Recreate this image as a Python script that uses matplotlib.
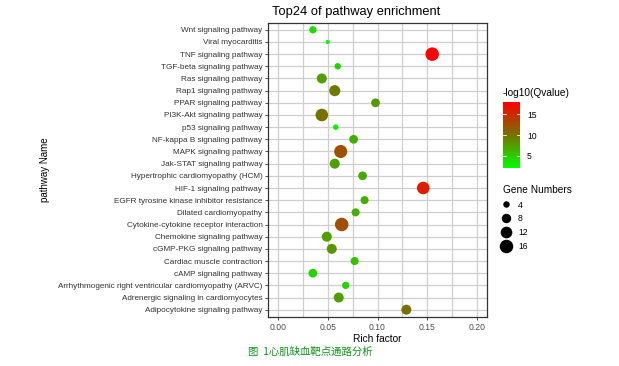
import matplotlib
matplotlib.use('Agg')
import matplotlib.pyplot as plt
from matplotlib.colors import LinearSegmentedColormap, Normalize
from matplotlib.lines import Line2D

plt.rcParams['font.family'] = ['Liberation Sans', 'DejaVu Sans']

# top to bottom as in the chart
pathways = [
    'Wnt signaling pathway',
    'Viral myocarditis',
    'TNF signaling pathway',
    'TGF-beta signaling pathway',
    'Ras signaling pathway',
    'Rap1 signaling pathway',
    'PPAR signaling pathway',
    'PI3K-Akt signaling pathway',
    'p53 signaling pathway',
    'NF-kappa B signaling pathway',
    'MAPK signaling pathway',
    'Jak-STAT signaling pathway',
    'Hypertrophic cardiomyopathy (HCM)',
    'HIF-1 signaling pathway',
    'EGFR tyrosine kinase inhibitor resistance',
    'Dilated cardiomyopathy',
    'Cytokine-cytokine receptor interaction',
    'Chemokine signaling pathway',
    'cGMP-PKG signaling pathway',
    'Cardiac muscle contraction',
    'cAMP signaling pathway',
    'Arrhythmogenic right ventricular cardiomyopathy (ARVC)',
    'Adrenergic signaling in cardiomyocytes',
    'Adipocytokine signaling pathway',
]
rich_factor = [0.035, 0.050, 0.155, 0.060, 0.044, 0.057, 0.098, 0.044,
               0.058, 0.076, 0.063, 0.057, 0.085, 0.146, 0.087, 0.078,
               0.064, 0.049, 0.054, 0.077, 0.035, 0.068, 0.061, 0.129]
gene_numbers = [5, 2, 16, 4, 9, 11, 7, 14, 3, 7, 15, 9, 7, 14, 6, 6,
                16, 9, 9, 6, 7, 5, 9, 9]
neg_log_q = [4.0, 2.2, 18.0, 4.5, 7.6, 9.5, 7.8, 10.0, 2.8, 6.8, 12.3, 7.5,
             6.8, 16.0, 6.5, 6.5, 12.5, 7.5, 8.0, 5.5, 4.5, 4.5, 7.5, 10.0]
size_legend = [4, 8, 12, 16]
x_ticks = [0.00, 0.05, 0.10, 0.15, 0.20]
cbar_ticks = [5, 10, 15]


def marker_area(n):
    d_px = (11.7 * n - 5) ** 0.5
    return (d_px * 0.72) ** 2


cmap = LinearSegmentedColormap.from_list(
    'gr', [(0.0, '#00FF00'), (0.5, '#767200'), (1.0, '#FF0000')])
norm = Normalize(vmin=2.0, vmax=18.0)

fig = plt.figure(figsize=(6.19, 3.66), dpi=100)
ax = fig.add_axes([268 / 619, 1 - 317 / 366, 219 / 619, 294.5 / 366])

ypos = list(range(len(pathways)))[::-1]
ax.scatter(rich_factor, ypos, s=[marker_area(n) for n in gene_numbers],
           c=neg_log_q, cmap=cmap, norm=norm, linewidths=0, zorder=3)

ax.set_xlim(-0.0101, 0.2101)
ax.set_ylim(-0.6, len(pathways) - 0.4)
ax.set_yticks(ypos)
ax.set_yticklabels(pathways, fontsize=5.9, color='#333333')
ax.set_xticks(x_ticks)
ax.set_xticklabels(['%.2f' % t for t in x_ticks], fontsize=6.2, color='#4D4D4D')
ax.set_xticks([0.025, 0.075, 0.125, 0.175], minor=True)
ax.tick_params(axis='both', length=2.5, width=0.6, color='#333333', pad=1.5)
ax.tick_params(axis='x', which='minor', length=0)
ax.grid(True, which='both', color='#CFCFCF', linewidth=0.9, zorder=0)
ax.set_axisbelow(True)
for sp in ax.spines.values():
    sp.set_color('#333333')
    sp.set_linewidth(0.9)

ax.set_xlabel('Rich factor', fontsize=7.3, labelpad=1.5)
fig.text(45 / 619, 1 - 170 / 366, 'pathway Name', rotation=90, fontsize=7,
         ha='center', va='center')
fig.text(272 / 619, 1 - 12 / 366, 'Top24 of pathway enrichment', fontsize=9.3,
         ha='left', va='center')

# colour legend
cax = fig.add_axes([503 / 619, 1 - 168.3 / 366, 17 / 619, 66.6 / 366])
cb = fig.colorbar(plt.cm.ScalarMappable(norm=norm, cmap=cmap), cax=cax,
                  ticks=cbar_ticks)
cb.outline.set_visible(False)
cax.tick_params(length=0, labelsize=6.2, pad=5)
for t in cbar_ticks:
    cax.axhline(t, xmin=0, xmax=0.2, color='white', linewidth=0.6)
    cax.axhline(t, xmin=0.8, xmax=1, color='white', linewidth=0.6)
fig.text(503 / 619, 1 - 93 / 366, '-log10(Qvalue)', fontsize=7.3,
         ha='left', va='center')

# size legend
fig.text(503 / 619, 1 - 190 / 366, 'Gene Numbers', fontsize=7.3,
         ha='left', va='center')
handles = [Line2D([], [], linestyle='none', marker='o', color='black',
                  markeredgewidth=0, markersize=marker_area(n) ** 0.5)
           for n in size_legend]
fig.legend(handles, [str(n) for n in size_legend], loc='upper left',
           bbox_to_anchor=(500 / 619, 1 - 200.5 / 366), frameon=False,
           fontsize=6.2, handletextpad=0.6, labelspacing=0.55,
           borderpad=0, borderaxespad=0, handlelength=1.5)

fig.text(310 / 619, 1 - 352 / 366, '图  1心肌缺血靶点通路分析', fontsize=7.5,
         color='#10921A', ha='center', va='center',
         family=['Noto Sans CJK SC', 'DejaVu Sans'])

fig.savefig('out.png', dpi=100)
